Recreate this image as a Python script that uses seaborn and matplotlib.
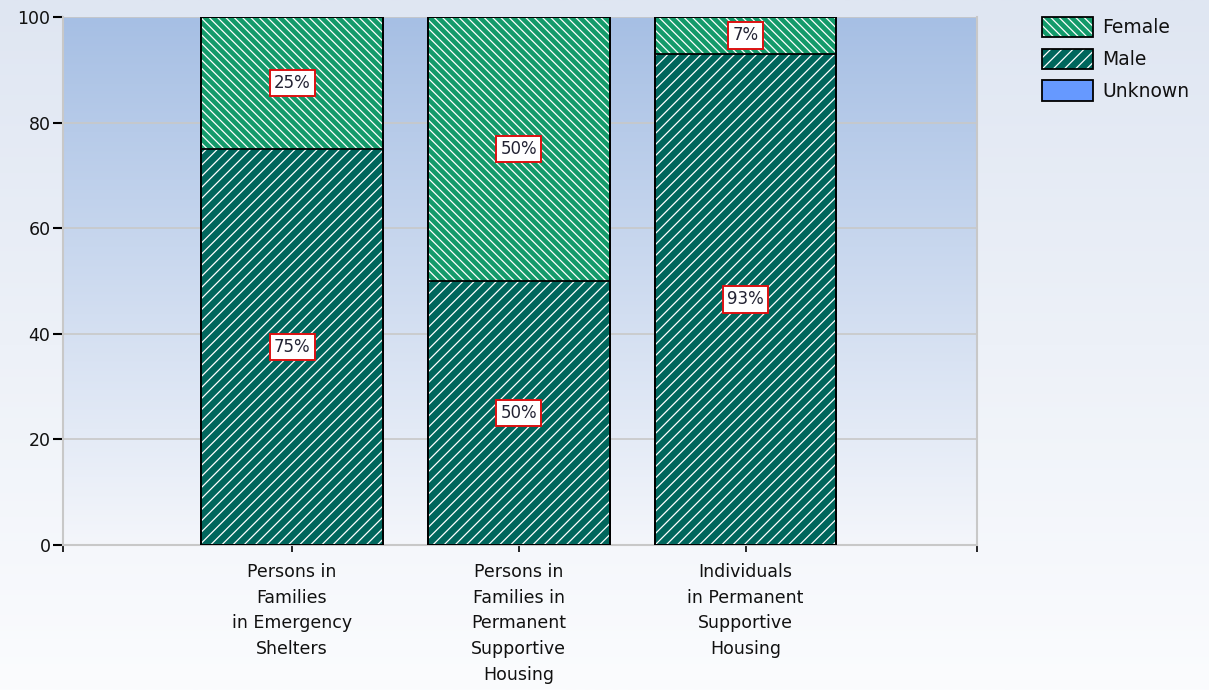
import numpy as np
import pandas as pd
import matplotlib
matplotlib.use("Agg")
import matplotlib.pyplot as plt
import matplotlib.patches as mpatches
from matplotlib.colors import LinearSegmentedColormap
from matplotlib.legend_handler import HandlerTuple
import seaborn as sns

# dados
categorias = ["Persons in\nFamilies\nin Emergency\nShelters",
              "Persons in\nFamilies in\nPermanent\nSupportive\nHousing",
              "Individuals\nin Permanent\nSupportive\nHousing"]
male = [75, 50, 93]
female = [25, 50, 7]
unknown = [0, 0, 0]

cor_female = "#139a6a"
cor_male = "#00665c"
cor_unknown = "#6699ff"

sns.set_theme(style="white")
plt.rcParams["font.family"] = ["DejaVu Sans"]
plt.rcParams["hatch.linewidth"] = 0.9

df = pd.DataFrame({"cat": categorias, "male": male, "female": female, "unknown": unknown})
df["total"] = df["male"] + df["female"] + df["unknown"]
df["mf"] = df["male"] + df["female"]

fig = plt.figure(figsize=(12.09, 6.90), dpi=100)

# fundo da figura em gradiente
bg = fig.add_axes([0, 0, 1, 1], zorder=-10)
grad = np.linspace(0, 1, 256).reshape(-1, 1)
bg.imshow(grad, aspect="auto", extent=[0, 1, 0, 1],
          cmap=LinearSegmentedColormap.from_list("fig", ["#dfe6f2", "#fbfcfe"]), origin="upper")
bg.axis("off")

ax = fig.add_axes([0.0521, 0.2101, 0.7560, 0.7653])
ax.set_facecolor("none")
ax.imshow(grad, aspect="auto", extent=[-1.01, 3.02, 0, 100],
          cmap=LinearSegmentedColormap.from_list("pl", ["#a6bfe4", "#f4f6fb"]), origin="upper", zorder=0)

ax.set_axisbelow(True)
ax.yaxis.grid(True, color="#c8c8c8", linewidth=1.2)

# barras empilhadas: desenha o total primeiro, depois o segmento de baixo
camadas = [("total", cor_unknown, None), ("mf", cor_female, "\\\\\\\\"), ("male", cor_male, "///")]
for col, cor, hatch in camadas:
    sns.barplot(data=df, x="cat", y=col, color=cor, width=0.8, saturation=1,
                hatch=hatch, edgecolor="white", linewidth=0, ax=ax, zorder=2)
    sns.barplot(data=df, x="cat", y=col, color=cor, width=0.8, saturation=1,
                fill=False, edgecolor="black", linewidth=1.3, ax=ax, zorder=3)

# rótulos de porcentagem
caixa = dict(boxstyle="square,pad=0.25", facecolor="white", edgecolor="#dd1111", linewidth=1.4)
for i in range(len(categorias)):
    base = 0
    for v in [male[i], female[i]]:
        if v > 0:
            ax.text(i, base + v / 2, f"{v}%", ha="center", va="center", fontsize=12,
                    color="#222233", bbox=caixa, zorder=5)
        base += v

ax.set_xlim(-1.01, 3.02)
ax.set_ylim(0, 100)
ax.set_yticks([0, 20, 40, 60, 80, 100])
ax.set_xticks([-1.01, 0, 1, 2, 3.02])
ax.set_xticklabels([""] + categorias + [""])
ax.tick_params(axis="x", bottom=True, length=5, width=1.2, color="black", labelsize=12.5,
               labelcolor="#111111", pad=8)
ax.tick_params(axis="y", left=True, length=7, width=1.5, color="black", labelsize=12.5,
               labelcolor="#111111", pad=2)
for lab in ax.get_xticklabels():
    lab.set_multialignment("center")
    lab.set_linespacing(1.55)
ax.set_xlabel("")
ax.set_ylabel("")
for s in ax.spines.values():
    s.set_color("#c8c8c8")
    s.set_linewidth(1.5)
ax.spines["top"].set_visible(False)

# legenda (hachura branca + contorno preto)
def chave(cor, hatch):
    fundo = mpatches.Patch(facecolor=cor, edgecolor="white", hatch=hatch, linewidth=0)
    borda = mpatches.Patch(facecolor="none", edgecolor="black", linewidth=1.3)
    return (fundo, borda)

handles = [chave(cor_female, "\\\\\\\\"), chave(cor_male, "///"), chave(cor_unknown, None)]
leg = fig.legend(handles=handles, labels=["Female", "Male", "Unknown"],
                 handler_map={tuple: HandlerTuple(ndivide=1, pad=0)},
                 loc="upper left", bbox_to_anchor=(0.848, 1.0), frameon=False,
                 fontsize=13.5, handlelength=2.7, handleheight=1.3, handletextpad=0.5, labelspacing=0.6)
for t in leg.get_texts():
    t.set_color("#111111")

plt.savefig("out.png", dpi=100)
